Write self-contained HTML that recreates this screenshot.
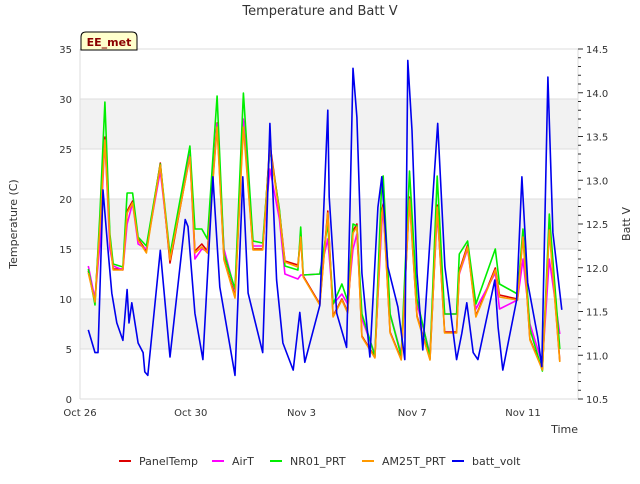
<!DOCTYPE html>
<html><head><meta charset="utf-8"><style>
body{margin:0;background:#fff;font-family:"DejaVu Sans","Liberation Sans",sans-serif;}
svg text{font-family:"DejaVu Sans","Liberation Sans",sans-serif;}
</style></head><body>
<svg id="chart" width="640" height="480" viewBox="0 0 640 480">
<text x="320" y="15" text-anchor="middle" font-size="13" fill="#333">Temperature and Batt V</text>
<g id="bands"></g><g id="axes"></g><g id="series"></g>
<text transform="translate(17,224) rotate(-90)" text-anchor="middle" font-size="11" fill="#333">Temperature (C)</text>
<text transform="translate(630,224) rotate(-90)" text-anchor="middle" font-size="11" fill="#333">Batt V</text>
<text x="578" y="433" text-anchor="end" font-size="11" fill="#333">Time</text>
<g>
<path d="M81,50 L81,37 Q81,32 86,32 L132,32 Q137,32 137,37 L137,50 Z" fill="#ffffcc" stroke="#000" stroke-width="1"/>
<text x="109" y="46" text-anchor="middle" font-size="11" font-weight="bold" fill="#8b0000">EE_met</text>
</g>
<g id="legend"></g>
</svg>
<script>
const tDays=[0.3,0.54,0.72,0.9,1.08,1.2,1.55,1.7,1.9,2.1,2.4,2.9,3.25,3.97,4.15,4.4,4.6,4.95,5.2,5.6,5.9,6.25,6.6,6.86,7.2,7.4,7.87,7.97,8.06,8.66,8.95,9.14,9.46,9.67,9.86,10.0,10.18,10.65,10.9,10.95,11.2,11.6,11.9,12.17,12.64,12.9,13.17,13.6,13.7,14.0,14.3,15.0,15.15,15.8,16.0,16.25,16.7,16.95,17.33];
const am25t=[12.6,9.7,17.2,25.9,15.9,12.9,12.9,18.6,19.6,15.9,14.6,23.4,13.9,24.2,14.6,15.2,14.6,27.2,13.9,10.1,27.2,14.9,14.9,25.2,18.6,13.7,13.2,16.2,12.2,9.4,18.6,8.2,9.9,8.6,16.6,17.2,6.2,4.1,18.6,19.2,6.6,3.9,19.9,8.2,3.9,19.2,6.6,6.6,12.6,15.2,8.2,12.9,10.2,9.9,16.2,5.9,2.9,16.9,3.7];
const nr01=[13.0,9.4,18.5,29.7,16.5,13.5,13.2,20.6,20.6,16.2,15.3,23.5,14.4,25.3,17.0,17.0,16.0,30.3,14.5,11.0,30.6,15.8,15.6,25.0,19.0,13.3,12.9,17.2,12.4,12.5,17.5,9.5,11.5,9.8,17.5,17.3,8.5,4.3,22.0,22.3,8.5,4.3,22.8,10.0,4.2,22.3,8.5,8.5,14.5,15.8,9.5,15.0,11.5,10.5,17.0,7.0,2.8,18.5,5.0];
const airT=[13.3,10.0,15.5,25.9,15.0,13.3,12.9,17.5,19.6,15.5,15.0,22.8,14.2,24.5,14.0,15.0,14.8,27.5,15.0,10.8,28.0,15.3,15.3,23.0,18.0,12.5,12.0,12.4,12.4,12.5,16.0,9.5,10.5,9.5,15.0,16.5,8.0,4.5,17.5,19.0,8.5,4.5,20.0,9.5,4.5,18.5,8.5,8.5,12.5,15.0,9.0,12.6,9.0,9.9,14.0,7.5,3.5,14.0,6.5];
const panelTemp=[12.8,9.8,17.5,26.2,16.0,13.0,13.0,18.8,19.8,16.0,14.8,23.6,13.6,24.4,14.8,15.5,14.8,27.6,14.0,10.3,27.8,15.0,15.0,25.5,18.8,13.8,13.4,16.3,12.3,9.5,18.8,8.3,10.0,8.7,16.8,17.5,6.3,4.2,18.8,19.5,6.7,4.0,20.2,8.3,4.0,19.4,6.7,6.7,12.8,15.4,8.3,13.1,10.4,10.0,16.5,6.0,3.0,17.2,3.8];
const voltDays=[0.3,0.54,0.65,0.83,1.0,1.15,1.33,1.55,1.7,1.77,1.87,2.1,2.28,2.34,2.45,2.9,3.25,3.8,3.9,4.15,4.44,4.8,5.05,5.6,5.88,6.07,6.6,6.86,7.1,7.33,7.7,7.94,8.12,8.66,8.95,9.0,9.27,9.63,9.75,9.86,10.0,10.18,10.47,10.76,10.9,11.12,11.48,11.73,11.84,11.99,12.17,12.38,12.64,12.92,13.18,13.6,13.79,13.97,14.2,14.37,14.98,15.1,15.27,15.77,15.96,16.17,16.53,16.68,16.9,17.08,17.4];
const battVolt=[11.29,11.03,11.03,12.89,12.24,11.71,11.37,11.17,11.75,11.37,11.6,11.14,11.03,10.81,10.77,12.2,10.98,12.55,12.47,11.48,10.95,13.04,11.78,10.77,13.04,11.71,11.03,13.65,11.86,11.14,10.83,11.49,10.92,11.57,13.8,12.81,11.48,11.09,12.69,14.28,13.72,11.94,10.98,12.69,13.04,12.01,11.55,10.95,14.37,13.57,11.94,11.06,12.32,13.65,12.01,10.95,11.25,11.6,11.03,10.95,11.86,11.32,10.83,11.63,13.04,11.83,11.21,10.87,14.18,12.4,11.52];
const xTickDays=[0,4,8,12,16];
const xTickLabels=["Oct 26","Oct 30","Nov 3","Nov 7","Nov 11"];
const yTicks=[0,5,10,15,20,25,30,35];
const y2Ticks=[10.5,11.0,11.5,12.0,12.5,13.0,13.5,14.0,14.5];
const seriesNames=["PanelTemp","AirT","NR01_PRT","AM25T_PRT","batt_volt"];
const seriesColors=["#dd0000","#ff00ff","#00ee00","#ff9900","#0000ee"];

const NS="http://www.w3.org/2000/svg";
const L=80,R=578,T=49,B=399;
const xS=d=>L+d*(523-80)/16;
const yS=v=>B-(v-0)*(B-T)/35;
const y2S=v=>B-(v-10.5)*(B-T)/4;
function mk(tag,attrs,parent){const e=document.createElementNS(NS,tag);for(const k in attrs)e.setAttribute(k,attrs[k]);parent.appendChild(e);return e;}
const bands=document.getElementById('bands'),axes=document.getElementById('axes'),ser=document.getElementById('series'),leg=document.getElementById('legend');
mk('rect',{x:L,y:T,width:R-L,height:B-T,fill:'#fff'},bands);
for(const lo of [5,15,25]){
 const r=mk('rect',{x:L,y:yS(lo+5),width:R-L,height:yS(lo)-yS(lo+5),fill:'#f2f2f2'},bands);
 
 
}
for(const v of yTicks){
 const g=mk('line',{x1:L,x2:R,y1:yS(v),y2:yS(v),stroke:'#dddddd','stroke-width':1},axes);
 
 
 const t=mk('text',{x:72,y:yS(v)+4,'text-anchor':'end','font-size':10,fill:'#333'},axes);
 t.textContent=v;
 
 
}
mk('line',{x1:L,x2:L,y1:T,y2:B,stroke:'#dddddd'},axes);
mk('line',{x1:R,x2:R,y1:T,y2:B,stroke:'#dddddd'},axes);
for(let v=10.5;v<=14.501;v+=0.1){
 const major=Math.abs(v*2-Math.round(v*2))<0.01;
 mk('line',{x1:R,x2:R+(major?5:3),y1:y2S(v),y2:y2S(v),stroke:'#333'},axes);
}
for(const v of y2Ticks){
 const t=mk('text',{x:586,y:y2S(v)+4,'font-size':10,fill:'#333'},axes);
 t.textContent=v.toFixed(1);
 
 
}
xTickDays.forEach((d,i)=>{
 const t=mk('text',{x:xS(d),y:416,'text-anchor':'middle','font-size':10,fill:'#333'},axes);
 t.textContent=xTickLabels[i];
 
 
});
function line(xs,ys,ysc,color,name){
 const p=mk('polyline',{points:xs.map((d,i)=>xS(d).toFixed(1)+','+ysc(ys[i]).toFixed(1)).join(' '),fill:'none',stroke:color,'stroke-width':1.6,'stroke-linejoin':'round'},ser);
 
 
}
line(tDays,panelTemp,yS,seriesColors[0],'panel-temp-line');
line(tDays,airT,yS,seriesColors[1],'airt-line');
line(tDays,nr01,yS,seriesColors[2],'nr01-prt-line');
line(tDays,am25t,yS,seriesColors[3],'am25t-prt-line');
line(voltDays,battVolt,y2S,seriesColors[4],'batt-volt-line');
const lx=[119,212,270,362,452];
seriesNames.forEach((n,i)=>{
 const g=mk('g',{},leg);
 
 
 mk('line',{x1:lx[i],x2:lx[i]+12,y1:461,y2:461,stroke:seriesColors[i],'stroke-width':2},g);
 const t=mk('text',{x:lx[i]+20,y:465,'font-size':11,fill:'#333'},g);
 t.textContent=n;
});
</script>
</body></html>
